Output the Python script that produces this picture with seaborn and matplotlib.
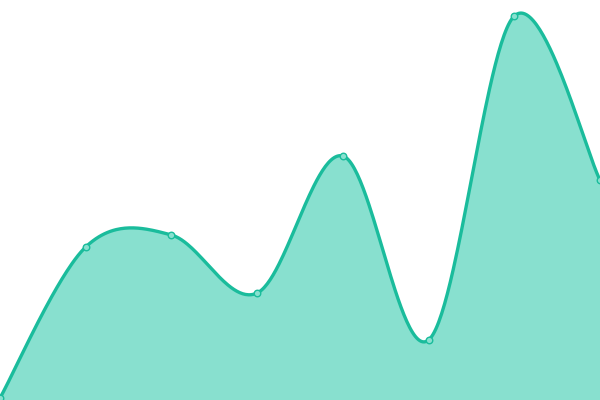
import numpy as np
import pandas as pd
import matplotlib
matplotlib.use("Agg")
import matplotlib.pyplot as plt
import seaborn as sns

# data (8 points, y in 0..400 scale)
positions = [0, 1, 2, 3, 4, 5, 6, 7]
values = [2, 153, 165, 107, 244, 60, 384, 220]

line_color = "#1abc9c"
fill_color = "#88e0cf"


def cardinal(xs, ys, n=60):
    # catmull-rom style smoothing (tension 0), endpoints duplicated
    px = [xs[0]] + list(xs) + [xs[-1]]
    py = [ys[0]] + list(ys) + [ys[-1]]
    out_x, out_y = [], []
    t = np.linspace(0, 1, n)
    for i in range(1, len(px) - 2):
        x0, x1 = px[i], px[i + 1]
        y0, y1 = py[i], py[i + 1]
        bx1 = x0 + (px[i + 1] - px[i - 1]) / 6
        by1 = y0 + (py[i + 1] - py[i - 1]) / 6
        bx2 = x1 - (px[i + 2] - px[i]) / 6
        by2 = y1 - (py[i + 2] - py[i]) / 6
        a = (1 - t) ** 3
        b = 3 * (1 - t) ** 2 * t
        c = 3 * (1 - t) * t ** 2
        d = t ** 3
        out_x.extend(a * x0 + b * bx1 + c * bx2 + d * x1)
        out_y.extend(a * y0 + b * by1 + c * by2 + d * y1)
    return np.array(out_x), np.array(out_y)


sx, sy = cardinal(positions, values)
smooth = pd.DataFrame({"x": sx, "y": sy})
pts = pd.DataFrame({"x": positions, "y": values})

sns.set_style("white")
fig = plt.figure(figsize=(6, 4), dpi=100)
ax = fig.add_axes([0, 0, 1, 1])

ax.fill_between(sx, sy, 0, color=fill_color, linewidth=0)
sns.lineplot(data=smooth, x="x", y="y", ax=ax, color=line_color,
             linewidth=2.4, sort=False, estimator=None)
sns.scatterplot(data=pts, x="x", y="y", ax=ax, s=22, color=fill_color,
                edgecolor=line_color, linewidth=1, zorder=5)

ax.set_xlim(0, 7)
ax.set_ylim(0, 400)
ax.axis("off")

fig.savefig("out.png", dpi=100)
